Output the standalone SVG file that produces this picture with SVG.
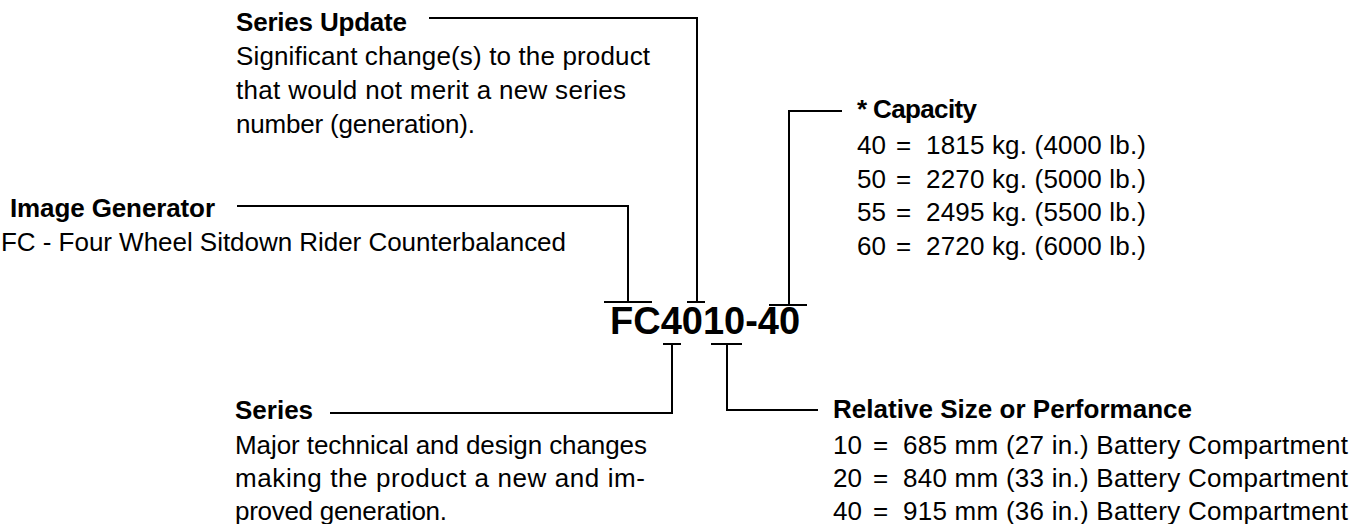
<svg xmlns="http://www.w3.org/2000/svg" width="1366" height="524" viewBox="0 0 1366 524">
<style>
text{font-family:"Liberation Sans",Arial,Helvetica,sans-serif;fill:#000;font-size:26px}
.h{font-weight:bold}
.code{font-size:38px;font-weight:bold}
.ln{fill:none;stroke:#000;stroke-width:2}
</style>
<rect width="1366" height="524" fill="#fff"/>
<g id="connectors">
<path class="ln" d="M429 18H697V302M687 302H705"/>
<path class="ln" d="M237 206H628V302M604 302H652"/>
<path class="ln" d="M842 111H789V305M769 305H807"/>
<path class="ln" d="M663 344H681M672 344V413H330"/>
<path class="ln" d="M711 344H742M727 344V410H818"/>
</g>
<g id="code"><text class="code" x="610" y="334">FC4010-40</text></g>
<g id="series-update">
<text class="h" x="236" y="31" textLength="171">Series Update</text>
<text x="236" y="65" textLength="414">Significant change(s) to the product</text>
<text x="236" y="99" textLength="390">that would not merit a new series</text>
<text x="236" y="133" textLength="239">number (generation).</text>
</g>
<g id="image-generator">
<text class="h" x="10" y="217" textLength="205">Image Generator</text>
<text x="1" y="251" textLength="565">FC - Four Wheel Sitdown Rider Counterbalanced</text>
</g>
<g id="capacity">
<text class="h" x="857" y="118" textLength="120">* Capacity</text>
<text y="154"><tspan x="857">40</tspan><tspan x="896">=</tspan><tspan x="926" textLength="220">1815 kg. (4000 lb.)</tspan></text>
<text y="188"><tspan x="857">50</tspan><tspan x="896">=</tspan><tspan x="926" textLength="220">2270 kg. (5000 lb.)</tspan></text>
<text y="221"><tspan x="857">55</tspan><tspan x="896">=</tspan><tspan x="926" textLength="220">2495 kg. (5500 lb.)</tspan></text>
<text y="255"><tspan x="857">60</tspan><tspan x="896">=</tspan><tspan x="926" textLength="220">2720 kg. (6000 lb.)</tspan></text>
</g>
<g id="series">
<text class="h" x="235" y="419">Series</text>
<text x="235" y="454" textLength="412">Major technical and design changes</text>
<text x="235" y="487" textLength="410">making the product a new and im-</text>
<text x="235" y="520" textLength="212">proved generation.</text>
</g>
<g id="relative-size">
<text class="h" x="833" y="418" textLength="359">Relative Size or Performance</text>
<text y="454"><tspan x="833">10</tspan><tspan x="873">=</tspan><tspan x="903" textLength="445">685 mm (27 in.) Battery Compartment</tspan></text>
<text y="487"><tspan x="833">20</tspan><tspan x="873">=</tspan><tspan x="903" textLength="445">840 mm (33 in.) Battery Compartment</tspan></text>
<text y="520"><tspan x="833">40</tspan><tspan x="873">=</tspan><tspan x="903" textLength="445">915 mm (36 in.) Battery Compartment</tspan></text>
</g>
</svg>
